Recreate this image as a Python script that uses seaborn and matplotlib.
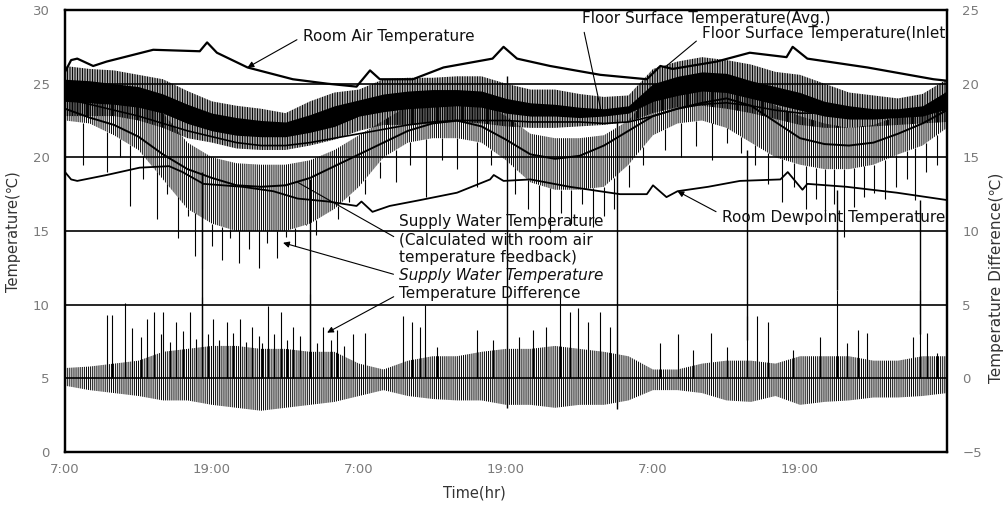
import matplotlib
matplotlib.use("Agg")
import matplotlib.pyplot as plt
import seaborn as sns
import numpy as np

# hours after 7:00 on day 1, grid for the envelope readings
hours = [0, 2, 4, 6, 8, 10, 12, 14, 16, 18, 20, 22, 24, 26, 28, 30, 32, 34, 36,
         38, 40, 42, 44, 46, 48, 50, 52, 54, 56, 58, 60, 62, 64, 66, 68, 70, 72]

# room air temperature (smooth)
air_h = [0, 0.5, 1.0, 2.3, 3.4, 7.2, 11.0, 11.6, 12.4, 14.9, 18.6, 21.4, 23.8, 24.9, 25.7,
         28.4, 30.9, 34.9, 35.8, 36.9, 39.6, 43.7, 47.5, 48.6, 49.6, 53.2, 55.9, 58.9, 59.4,
         60.6, 65.5, 70.9, 72.0]
air_v = [25.8, 26.6, 26.7, 26.2, 26.5, 27.3, 27.2, 27.8, 27.1, 26.1, 25.3, 25.0, 24.8, 25.9, 25.3,
         25.3, 26.1, 26.7, 27.5, 26.7, 26.2, 25.6, 25.3, 26.2, 26.0, 26.5, 27.1, 26.8, 27.5,
         26.7, 26.1, 25.3, 25.2]

# room dewpoint temperature
dew_h = [0, 0.5, 1.0, 3.4, 6.1, 8.5, 9.6, 11.3, 14.5, 17.0, 19.0, 21.5, 23.8, 24.2, 25.1, 26.5,
         29.0, 32.0, 34.7, 35.0, 35.8, 38.0, 41.2, 45.3, 47.5, 48.0, 49.1, 50.0, 52.5, 55.1,
         58.4, 59.0, 60.2, 60.6, 63.8, 67.9, 72.0]
dew_v = [19.0, 18.5, 18.4, 18.8, 19.3, 19.4, 19.0, 18.2, 18.0, 17.7, 17.2, 17.0, 16.7, 17.0, 16.3, 16.7,
         17.1, 17.6, 18.5, 18.8, 18.4, 18.5, 18.0, 17.5, 17.5, 18.1, 17.3, 17.7, 18.0, 18.4,
         18.5, 19.0, 17.8, 18.2, 18.0, 17.6, 17.1]

# supply water temperature, calculated with room air feedback
calc_v = [23.3, 22.7, 22.2, 21.4, 20.2, 19.2, 18.6, 18.1, 18.0, 18.1, 18.6, 19.4, 20.2, 21.0, 21.8,
          22.3, 22.5, 22.1, 21.2, 20.2, 19.9, 20.1, 20.8, 21.8, 22.8, 23.3, 23.7, 24.0, 23.5,
          22.4, 21.3, 20.9, 20.8, 21.0, 21.6, 22.3, 23.2]

# floor surface temperature (avg.)
floor_v = [24.0, 23.6, 23.2, 22.8, 22.3, 21.8, 21.4, 21.0, 20.8, 20.8, 21.0, 21.3, 21.6, 21.9, 22.2,
           22.4, 22.5, 22.5, 22.5, 22.4, 22.4, 22.4, 22.3, 22.4, 22.8, 23.3, 23.6, 23.7, 23.5,
           23.2, 23.0, 23.0, 23.0, 23.1, 23.1, 23.1, 23.2]

# floor surface temperature (inlet): noisy, read as envelope + dense core
inlet_hi = [26.2, 26.0, 25.9, 25.6, 25.3, 24.5, 23.8, 23.5, 23.3, 23.0, 23.8, 24.4, 24.6, 25.3, 25.4,
            25.4, 25.5, 25.5, 25.0, 24.6, 24.6, 24.3, 24.1, 24.2, 26.0, 26.5, 26.8, 26.6, 26.3,
            25.8, 25.6, 25.0, 24.4, 24.2, 24.0, 24.3, 25.3]
inlet_lo = [22.8, 22.8, 22.8, 22.5, 22.0, 21.3, 21.0, 20.6, 20.5, 20.5, 20.8, 21.2, 21.8, 22.2, 22.2,
            22.3, 22.4, 22.3, 22.1, 22.0, 22.0, 22.1, 22.2, 22.4, 23.0, 23.4, 23.5, 23.3, 23.0,
            22.6, 22.2, 22.0, 22.0, 22.1, 22.2, 22.3, 22.4]
core_hi = [25.3, 25.2, 25.0, 24.8, 24.3, 23.6, 23.0, 22.7, 22.5, 22.4, 22.9, 23.5, 23.9, 24.3, 24.5,
           24.6, 24.6, 24.5, 24.0, 23.7, 23.6, 23.4, 23.3, 23.5, 25.0, 25.5, 25.8, 25.7, 25.2,
           24.8, 24.4, 23.8, 23.5, 23.3, 23.3, 23.5, 24.5]
core_lo = [23.8, 23.7, 23.6, 23.4, 23.0, 22.3, 21.8, 21.5, 21.4, 21.4, 21.7, 22.1, 22.8, 23.1, 23.3,
           23.4, 23.5, 23.4, 23.0, 22.8, 22.8, 22.7, 22.8, 23.0, 23.8, 24.2, 24.5, 24.4, 24.0,
           23.6, 23.2, 22.8, 22.6, 22.6, 22.7, 22.8, 23.3]

# supply water temperature (measured): envelope + downward spikes
sup_hi = [25.0, 24.8, 24.5, 24.0, 23.0, 21.0, 20.0, 19.6, 19.5, 19.5, 19.8, 20.5, 21.5, 22.5, 23.5,
          24.0, 24.0, 23.8, 22.8, 21.6, 21.3, 21.3, 21.5, 22.5, 24.5, 25.2, 25.4, 25.2, 24.5,
          23.5, 22.8, 22.3, 22.0, 22.2, 22.8, 23.3, 24.5]
sup_lo = [22.5, 22.3, 21.5, 20.5, 18.5, 16.5, 15.5, 15.0, 15.0, 15.0, 15.5, 16.5, 18.0, 20.0, 21.0,
          21.3, 21.3, 21.0, 19.8, 18.3, 17.8, 17.8, 18.0, 19.5, 21.5, 22.3, 22.5, 22.0, 21.0,
          20.0, 19.5, 19.2, 19.2, 19.5, 20.2, 20.8, 22.0]
spike_h = [1.5, 3.4, 4.5, 5.3, 6.4, 7.5, 8.3, 9.2, 10.0, 10.6, 11.2, 12.0, 12.8, 13.5, 14.2, 15.0,
           15.8, 16.5, 17.3, 18.0, 18.8, 19.7, 20.5, 21.4, 22.3, 23.2, 24.5, 25.7, 27.0, 28.2,
           29.5, 30.8, 32.0, 33.6, 34.8, 36.7, 37.8, 38.7, 39.6, 40.5, 41.3, 42.2, 43.1, 44.0,
           44.8, 46.0, 47.2, 49.0, 50.3, 51.5, 52.8, 54.0, 55.2, 56.3, 57.4, 58.5, 59.5, 60.5,
           61.3, 62.0, 62.8, 63.6, 64.4, 65.2, 66.0, 66.9, 67.8, 68.7, 69.4, 70.3, 71.2]
spike_v = [19.5, 19.0, 20.0, 16.7, 18.5, 15.8, 17.5, 14.5, 16.0, 13.3, 12.4, 14.0, 13.0, 14.5, 12.8, 13.8,
           12.5, 14.2, 13.2, 14.6, 14.0, 15.5, 14.7, 16.2, 15.8, 17.0, 17.5, 18.6, 18.3, 19.5,
           17.3, 19.8, 19.2, 18.0, 19.5, 17.5, 16.5, 15.8, 14.9, 16.2, 15.5, 16.8, 15.3, 16.0,
           16.5, 18.0, 19.5, 20.5, 20.0, 20.8, 19.8, 21.0, 20.3, 19.5, 18.2, 17.0, 18.0, 16.5,
           17.2, 16.0, 16.8, 14.6, 16.6, 17.3, 17.6, 17.2, 18.0, 18.5, 17.1, 19.0, 19.5]

# long vertical strokes crossing the whole plot (left axis units)
tall_h = [11.2, 20.0, 36.1, 45.1, 55.7, 63.0, 69.8]
tall_top = [19.0, 18.5, 25.5, 22.6, 20.5, 17.8, 17.1]
tall_bot = [7.0, 6.0, 3.0, 2.9, 7.6, 11.0, 8.0]

# temperature difference (right axis): envelope around zero + upward spikes
diff_hi = [0.7, 0.8, 1.0, 1.2, 1.8, 2.0, 2.2, 2.2, 2.0, 2.0, 1.8, 1.8, 1.0, 0.6, 1.2, 1.5, 1.5, 1.8, 2.0,
           2.0, 2.2, 2.0, 1.8, 1.5, 0.6, 0.6, 1.0, 1.2, 1.2, 1.0, 1.5, 1.5, 1.5, 1.2, 1.2, 1.5, 1.5]
diff_lo = [-0.5, -0.8, -1.0, -1.2, -1.5, -1.5, -1.8, -2.0, -2.2, -2.0, -1.8, -1.6, -1.2, -0.8, -1.2,
           -1.4, -1.5, -1.5, -1.8, -1.8, -2.0, -1.8, -1.8, -1.5, -0.8, -0.8, -1.0, -1.5, -1.6,
           -1.2, -1.8, -1.6, -1.5, -1.3, -1.3, -1.2, -1.0]
dspike_h = [3.4, 3.8, 4.9, 5.5, 6.2, 6.7, 7.3, 7.8, 8.0, 8.6, 9.1, 9.6, 10.2, 10.7, 11.2, 11.7, 12.1,
            12.6, 13.2, 13.7, 14.3, 14.8, 15.3, 15.8, 16.1, 16.6, 17.1, 17.6, 18.1, 18.6, 19.2,
            20.0, 20.6, 21.1, 21.7, 22.2, 22.8, 23.5, 24.5, 27.6, 28.3, 29.0, 29.4, 30.4, 33.6,
            34.9, 37.1, 38.2, 39.3, 40.4, 41.2, 41.9, 42.7, 43.7, 44.5, 48.6, 50.0, 51.3, 52.7,
            54.0, 55.7, 56.5, 57.4, 59.4, 61.6, 63.0, 63.8, 64.7, 65.5, 69.2, 69.8, 70.4, 71.2]
dspike_v = [4.3, 4.3, 5.1, 3.4, 2.8, 4.0, 4.5, 3.0, 4.5, 2.5, 3.8, 3.2, 4.5, 2.7, 5.5, 3.0, 4.0,
            2.6, 3.8, 3.1, 4.0, 2.5, 3.5, 2.9, 2.4, 4.9, 3.0, 4.5, 2.6, 3.5, 2.9,
            5.7, 2.4, 3.5, 2.6, 3.3, 2.2, 3.0, 3.1, 4.2, 3.8, 3.5, 5.0, 2.1, 3.3,
            2.6, 2.8, 3.3, 3.5, 5.5, 4.5, 4.8, 3.8, 4.5, 3.5, 2.4, 3.0, 1.9, 3.1,
            2.1, 4.2, 4.2, 3.8, 1.9, 2.8, 6.0, 2.4, 3.3, 3.1, 2.8, 6.0, 3.1, 1.7]

tick_pos = [0, 12, 24, 36, 48, 60, 72]
tick_lab = ["7:00", "19:00", "7:00", "19:00", "7:00", "19:00", ""]

sns.set_style("white")
plt.rcParams["font.family"] = ["DejaVu Sans"]
plt.rcParams["hatch.linewidth"] = 0.7

fig = plt.figure(figsize=(10.08, 5.07), dpi=100)
ax = fig.add_axes([65 / 1008, 55 / 507, 882 / 1008, 442 / 507])
ax2 = ax.twinx()

ax.set_xlim(0, 72)
ax.set_ylim(0, 30)
ax2.set_ylim(-5, 25)

for v in [5, 10, 15, 20, 25]:
    ax.axhline(v, color="black", lw=1.2, zorder=1)

# noisy bands (hatched so they read as dense traces)
ax.fill_between(hours, sup_lo, sup_hi, facecolor="none", edgecolor="black",
                hatch="||||||||", lw=0, zorder=2)
base = np.interp(spike_h, hours, sup_lo)
ax.vlines(spike_h, spike_v, base, color="black", lw=0.8, zorder=2)
ax.fill_between(hours, inlet_lo, inlet_hi, facecolor="none", edgecolor="black",
                hatch="||||||||||", lw=0, zorder=3)
ax.fill_between(hours, core_lo, core_hi, color="black", lw=0, zorder=3)
ax.vlines(tall_h, tall_bot, tall_top, color="black", lw=1.0, zorder=3)

ax2.fill_between(hours, diff_lo, diff_hi, facecolor="none", edgecolor="black",
                 hatch="||||||||", lw=0, zorder=2)
ax2.vlines(dspike_h, 0, dspike_v, color="black", lw=0.8, zorder=2)

# smooth curves
sns.lineplot(x=air_h, y=air_v, ax=ax, color="black", lw=1.6, zorder=4)
sns.lineplot(x=dew_h, y=dew_v, ax=ax, color="black", lw=1.3, zorder=4)
sns.lineplot(x=hours, y=calc_v, ax=ax, color="black", lw=1.4, zorder=4)
sns.lineplot(x=hours, y=floor_v, ax=ax, color="black", lw=1.2, zorder=4)

FS = 11


def note(text, xy, xytext, head=True, ha="left", rel=(0, 0.5), style="normal"):
    ax.annotate(text, xy=xy, xytext=xytext, fontsize=FS, ha=ha, va="center",
                fontstyle=style, color="#111111", zorder=6,
                arrowprops=dict(arrowstyle="-|>" if head else "-", color="black",
                                lw=0.8, mutation_scale=9, shrinkA=2, shrinkB=0,
                                relpos=rel))


note("Room Air Temperature", (14.9, 26.1), (19.4, 28.2))
note("Floor Surface Temperature(Avg.)", (43.8, 23.0), (42.2, 29.4), head=False, rel=(0, 0.3))
note("Floor Surface Temperature(Inlet", (49.1, 26.2), (71.85, 28.4), head=False,
     ha="right", rel=(0, 0.3))
note("Room Dewpoint Temperature", (50.0, 17.7), (71.85, 15.9), ha="right", rel=(0, 0.7))
ax.text(27.3, 15.65, "Supply Water Temperature", fontsize=FS, va="center",
        color="#111111", zorder=6)
note("(Calculated with room air", (19.0, 18.3), (27.3, 14.4), head=False)
ax.text(27.3, 13.2, "temperature feedback)", fontsize=FS, va="center",
        color="#111111", zorder=6)
note("Supply Water Temperature", (17.8, 14.2), (27.3, 11.95), style="italic")
note("Temperature Difference", (21.4, 8.1), (27.3, 10.75))

# axes styling
ax.set_xticks(tick_pos)
ax.set_xticklabels(tick_lab)
ax.set_yticks([0, 5, 10, 15, 20, 25, 30])
ax2.set_yticks([-5, 0, 5, 10, 15, 20, 25])
ax.tick_params(axis="x", direction="in", length=4, width=1, color="black",
               labelsize=9.5, labelcolor="#7a7a7a", pad=8)
ax.tick_params(axis="y", length=0, labelsize=9.5, labelcolor="#7a7a7a", pad=11)
ax2.tick_params(axis="y", length=0, labelsize=9.5, labelcolor="#7a7a7a", pad=11)
for a in (ax, ax2):
    for s in a.spines.values():
        s.set_visible(True)
        s.set_color("black")
        s.set_linewidth(1.6)

fig.text(14 / 1008, 1 - 232 / 507, "Temperature(\u2103)", rotation=90, ha="center",
         va="center", fontsize=10.5, color="#333333")
fig.text(997 / 1008, 1 - 278 / 507, "Temperature Difference(\u2103)", rotation=90,
         ha="center", va="center", fontsize=11, color="#333333")
fig.text(474 / 1008, 1 - 493 / 507, "Time(hr)", ha="center", va="center",
         fontsize=10.5, color="#333333")

fig.savefig("out.png", dpi=100)
